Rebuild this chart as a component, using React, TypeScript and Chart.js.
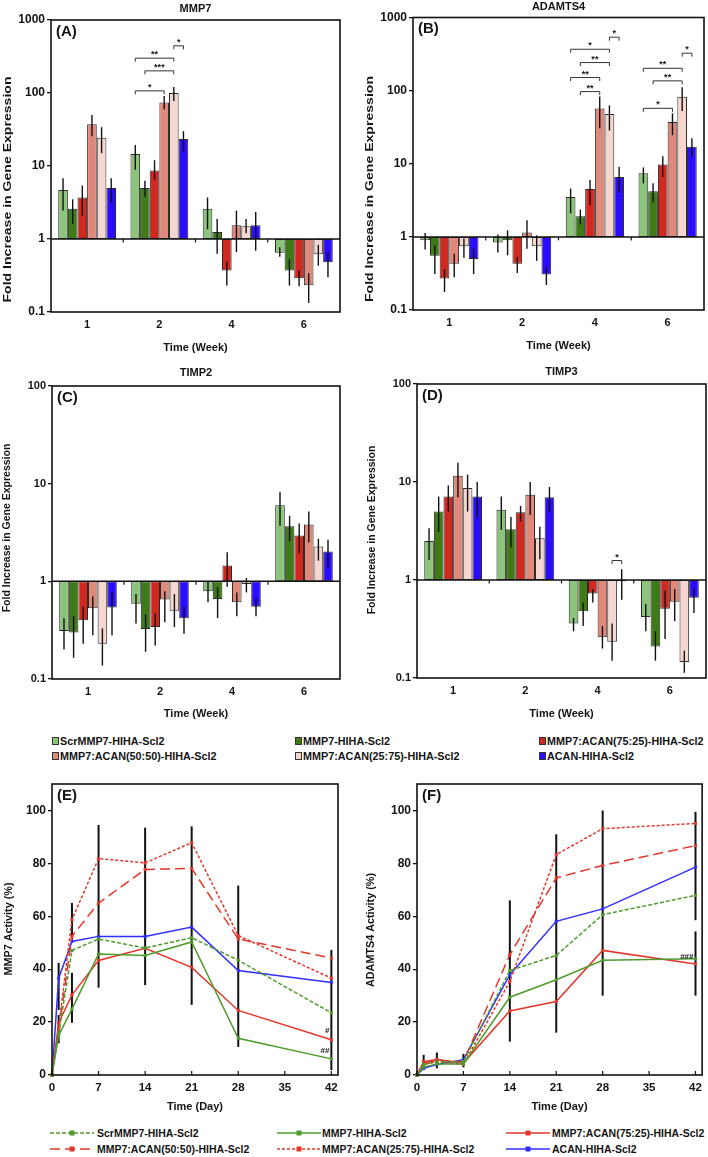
import React, { useEffect, useRef } from 'react';
import { Chart, registerables } from 'chart.js';

Chart.register(...registerables);

const FONT = '"Liberation Sans", Arial, Helvetica, sans-serif';
const INK = '#141414';

// ---------- categories & tick labels ----------
const weekLabels = ['1', '2', '4', '6'];
const seriesNames = [
  'ScrMMP7-HIHA-Scl2',
  'MMP7-HIHA-Scl2',
  'MMP7:ACAN(75:25)-HIHA-Scl2',
  'MMP7:ACAN(50:50)-HIHA-Scl2',
  'MMP7:ACAN(25:75)-HIHA-Scl2',
  'ACAN-HIHA-Scl2',
];
const logTicksWide = [0.1, 1, 10, 100, 1000];
const logTicksNarrow = [0.1, 1, 10, 100];
const dayTicks = [0, 7, 14, 21, 28, 35, 42];
const activityTicks = [0, 20, 40, 60, 80, 100];
const activityDays = [0, 1, 3, 7, 14, 21, 28, 42];

// ---------- styles ----------
const barColors = ['#8dc47b', '#3e7b16', '#d1291f', '#e0887a', '#f6d7d0', '#2b0cff'];
const lineColors = ['#4f9b2e', '#4f9b2e', '#e2372c', '#e2372c', '#e2372c', '#2f2fff'];
const lineDashes: number[][] = [[4, 2], [], [], [10, 5], [3, 2], []];

// ---------- (A) MMP7 gene expression (rows = series, cols = weeks) ----------
const mmp7Mean = [
  [4.7, 14.6, 2.6, 0.65],
  [2.6, 5.0, 1.25, 0.37],
  [3.7, 8.7, 0.37, 0.29],
  [37.4, 74.4, 1.54, 0.233],
  [24.3, 100, 1.49, 0.62],
  [5.0, 23.5, 1.54, 0.48],
];
const mmp7Upper = [
  [6.8, 19.4, 3.7, 0.77],
  [3.5, 6.3, 1.88, 0.53],
  [5.4, 12.0, 0.49, 0.37],
  [50, 90.7, 2.45, 0.34],
  [34, 121, 1.88, 0.83],
  [6.8, 30, 2.35, 0.66],
];
const mmp7Lower = [
  [2.45, 8.9, 1.36, 0.57],
  [1.6, 3.8, 0.63, 0.23],
  [2.07, 6.5, 0.23, 0.225],
  [25.6, 59.3, 0.66, 0.133],
  [15, 78, 1.2, 0.43],
  [3.1, 15.7, 0.69, 0.3],
];
// [week index, from series, to series, bracket level, label]
const mmp7Sig: [number, number, number, number, string][] = [
  [1, 0, 3, 107, '*'],
  [1, 1, 4, 201, '***'],
  [1, 0, 4, 300, '**'],
  [1, 4, 5, 443, '*'],
];

// ---------- (B) ADAMTS4 gene expression ----------
const adamts4Mean = [
  [0.9, 0.84, 3.5, 7.4],
  [0.55, 0.9, 1.92, 4.2],
  [0.27, 0.43, 4.5, 9.8],
  [0.43, 1.15, 57, 37.2],
  [0.745, 0.745, 48, 82.7],
  [0.5, 0.305, 6.6, 17.1],
];
const adamts4Upper = [
  [1.13, 1.08, 4.6, 8.9],
  [0.77, 1.23, 2.37, 5.4],
  [0.36, 0.53, 6.0, 12.7],
  [0.59, 1.69, 83, 49],
  [0.95, 1.05, 63, 111],
  [0.69, 0.39, 9.1, 22.3],
];
const adamts4Lower = [
  [0.67, 0.61, 2.1, 5.4],
  [0.31, 0.56, 1.49, 2.95],
  [0.176, 0.32, 2.7, 6.6],
  [0.28, 0.69, 30.5, 24.6],
  [0.52, 0.47, 28.4, 52.6],
  [0.31, 0.22, 4.0, 12.5],
];
const adamts4Sig: [number, number, number, number, string][] = [
  [2, 1, 3, 97, '**'],
  [2, 0, 3, 151, '**'],
  [2, 1, 4, 242, '**'],
  [2, 0, 4, 368, '*'],
  [2, 4, 5, 538, '*'],
  [3, 0, 3, 57.3, '*'],
  [3, 1, 4, 136, '**'],
  [3, 0, 4, 202, '**'],
  [3, 4, 5, 325, '*'],
];

// ---------- (C) TIMP2 gene expression ----------
const timp2Mean = [
  [0.31, 0.59, 0.79, 6.0],
  [0.3, 0.325, 0.66, 3.67],
  [0.4, 0.34, 1.45, 2.94],
  [0.53, 0.65, 0.61, 3.82],
  [0.23, 0.5, 0.94, 2.27],
  [0.54, 0.42, 0.55, 2.02],
];
const timp2Upper = [
  [0.42, 0.74, 1.0, 8.2],
  [0.44, 0.46, 0.87, 4.7],
  [0.55, 0.47, 1.99, 3.9],
  [0.7, 0.79, 0.77, 5.2],
  [0.33, 0.74, 1.08, 2.72],
  [0.78, 0.55, 0.67, 2.66],
];
const timp2Lower = [
  [0.2, 0.37, 0.61, 3.7],
  [0.165, 0.19, 0.42, 2.58],
  [0.23, 0.22, 0.88, 1.94],
  [0.28, 0.38, 0.44, 2.5],
  [0.137, 0.34, 0.77, 1.63],
  [0.28, 0.29, 0.44, 1.37],
];
const timp2Sig: [number, number, number, number, string][] = [];

// ---------- (D) TIMP3 gene expression ----------
const timp3Mean = [
  [2.5, 5.2, 0.36, 0.42],
  [5.0, 3.3, 0.48, 0.21],
  [7.1, 4.9, 0.73, 0.51],
  [11.6, 7.4, 0.26, 0.6],
  [8.7, 2.67, 0.235, 0.146],
  [7.1, 7.0, 0.97, 0.66],
];
const timp3Upper = [
  [3.38, 7.1, 0.41, 0.57],
  [7.1, 4.4, 0.59, 0.3],
  [9.2, 5.7, 0.81, 0.78],
  [15.7, 10.0, 0.34, 0.81],
  [11.9, 3.5, 0.36, 0.19],
  [10.0, 8.9, 1.29, 0.81],
];
const timp3Lower = [
  [1.6, 3.25, 0.3, 0.3],
  [3.1, 2.16, 0.34, 0.15],
  [5.0, 3.95, 0.59, 0.25],
  [7.0, 4.6, 0.2, 0.38],
  [5.0, 1.63, 0.15, 0.113],
  [4.3, 5.0, 0.63, 0.46],
];
const timp3Sig: [number, number, number, number, string][] = [[2, 4, 5, 1.58, '*']];

// ---------- (E) MMP7 activity (%) ----------
const mmp7ActScr = [0, 15.5, 47.1, 51.4, 48.0, 51.9, 43.4, 23.5];
const mmp7ActMmp7 = [0, 15.0, 24.9, 45.7, 45.2, 50.3, 13.9, 6.1];
const mmp7Act7525 = [0, 19.7, 30.3, 43.3, 47.9, 40.7, 24.4, 13.3];
const mmp7Act5050 = [0, 17.0, 52.4, 65.0, 77.7, 78.1, 51.4, 44.2];
const mmp7Act2575 = [0, 18.0, 58.7, 81.8, 80.2, 87.8, 52.7, 36.6];
const mmp7ActAcan = [0, 36.6, 50.5, 52.4, 52.4, 55.9, 39.5, 35.0];
// error spans: [day, low, high]
const mmp7ActErr: [number, number, number][] = [
  [1, 24.6, 42.4], [1, 12, 22.7], [3, 50, 65], [3, 19.7, 38.6], [7, 33, 94.5],
  [14, 34, 93.5], [21, 26.5, 94], [28, 10.6, 71.6], [42, 1.9, 47.3],
];
// [label, day, level]
const mmp7ActMarks: [string, number, number][] = [['#', 42, 16.7], ['##', 42, 9.1]];

// ---------- (F) ADAMTS4 activity (%) ----------
const adamActScr = [0, 4.0, 5.0, 5.0, 39.5, 45.2, 60.6, 67.9];
const adamActMmp7 = [0, 3.0, 4.2, 4.2, 29.4, 36.0, 43.4, 43.9];
const adamAct7525 = [0, 5.0, 5.9, 4.5, 24.2, 27.8, 47.1, 42.0];
const adamAct5050 = [0, 4.5, 5.5, 5.0, 45.5, 74.5, 79.2, 86.7];
const adamAct2575 = [0, 4.0, 5.0, 4.0, 35.4, 83.3, 93.1, 95.1];
const adamActAcan = [0, 2.5, 4.0, 5.8, 37.9, 58.1, 62.8, 78.6];
const adamActErr: [number, number, number][] = [
  [1, 1.9, 7.6], [3, 2.5, 8.5], [7, 2.9, 8.0], [14, 12.6, 66], [21, 16, 91],
  [28, 30, 100], [42, 58.5, 99.5], [42, 30, 54.3],
];
const adamActMarks: [string, number, number][] = [['###', 42, 44.5]];

// ---------- helpers ----------
type Box = { left: number; top: number; width: number; height: number };
type Area = { left: number; top: number; right: number; bottom: number };

function drawText(
  ctx: CanvasRenderingContext2D,
  str: string,
  x: number,
  y: number,
  size: number,
  align: CanvasTextAlign = 'center',
  baseline: CanvasTextBaseline = 'middle',
  rotate = 0,
  stretch = 1,
) {
  ctx.save();
  ctx.translate(x, y);
  if (rotate) ctx.rotate(rotate);
  if (stretch !== 1) ctx.scale(stretch, 1);
  ctx.font = `bold ${size}px ${FONT}`;
  ctx.fillStyle = INK;
  ctx.textAlign = align;
  ctx.textBaseline = baseline;
  ctx.fillText(str, 0, 0);
  ctx.restore();
}

function seg(ctx: CanvasRenderingContext2D, x1: number, y1: number, x2: number, y2: number) {
  ctx.beginPath();
  ctx.moveTo(x1, y1);
  ctx.lineTo(x2, y2);
  ctx.stroke();
}

type BarPanel = {
  id: string;
  letter: string;
  title: string;
  mean: number[][];
  upper: number[][];
  lower: number[][];
  sig: [number, number, number, number, string][];
  yTicks: number[];
  tickSize: number;
  box: Box;
  area: Area;
  titleY: number;
  xTitleY: number;
  yTitleX: number;
  yTitleY: number;
  yTitleStretch: number;
};

function barConfig(p: BarPanel): any {
  const { box, area } = p;
  const plugin = {
    id: 'barDecor' + p.id,
    afterDatasetsDraw(chart: any) {
      const { ctx, chartArea: a, scales } = chart;
      const x = scales.x;
      const y = scales.y;
      const ox = box.left;
      const oy = box.top;
      ctx.save();
      // error bars
      ctx.strokeStyle = '#111';
      ctx.lineWidth = 1.4;
      p.mean.forEach((row, i) => {
        const meta = chart.getDatasetMeta(i);
        row.forEach((_v, j) => {
          const px = meta.data[j].x;
          seg(ctx, px, y.getPixelForValue(p.upper[i][j]), px, y.getPixelForValue(p.lower[i][j]));
        });
      });
      // baseline at fold change = 1
      const y1 = y.getPixelForValue(1);
      ctx.lineWidth = 1.5;
      seg(ctx, a.left, y1, a.right, y1);
      ctx.lineWidth = 1.2;
      for (let k = 1; k < weekLabels.length; k++) {
        const xb = (x.getPixelForValue(k - 1) + x.getPixelForValue(k)) / 2;
        seg(ctx, xb, y1, xb, y1 + 3.5);
      }
      // frame
      ctx.lineWidth = 1.6;
      ctx.strokeRect(a.left, a.top, a.right - a.left, a.bottom - a.top);
      // significance brackets
      ctx.strokeStyle = '#333';
      ctx.lineWidth = 1;
      p.sig.forEach(([g, s1, s2, h, lab]) => {
        const x1 = chart.getDatasetMeta(s1).data[g].x;
        const x2 = chart.getDatasetMeta(s2).data[g].x;
        const yy = y.getPixelForValue(h);
        ctx.beginPath();
        ctx.moveTo(x1, yy + 3.5);
        ctx.lineTo(x1, yy);
        ctx.lineTo(x2, yy);
        ctx.lineTo(x2, yy + 3.5);
        ctx.stroke();
        drawText(ctx, lab, (x1 + x2) / 2, yy - 1, 9, 'center', 'alphabetic');
      });
      // texts
      const cx = (a.left + a.right) / 2;
      drawText(ctx, p.letter, a.left + 5, a.top + 4, 15, 'left', 'top');
      drawText(ctx, p.title, cx, p.titleY - oy, 11);
      drawText(ctx, 'Time (Week)', cx, p.xTitleY - oy, 11);
      drawText(ctx, 'Fold Increase in Gene Expression', p.yTitleX - ox, p.yTitleY - oy, 10.5, 'center', 'middle', -Math.PI / 2, p.yTitleStretch);
      ctx.restore();
    },
  };
  return {
    type: 'bar',
    data: {
      labels: weekLabels,
      datasets: p.mean.map((row, i) => ({
        label: seriesNames[i],
        data: row.map((v) => [1, v]),
        backgroundColor: barColors[i],
        borderColor: '#2b2b2b',
        borderWidth: 1,
        borderSkipped: false,
        categoryPercentage: 0.8,
        barPercentage: 1.0,
      })),
    },
    options: {
      responsive: false,
      animation: false,
      events: [],
      layout: {
        padding: {
          top: area.top - box.top,
          right: box.left + box.width - area.right,
          left: 0,
          bottom: 0,
        },
      },
      plugins: { legend: { display: false }, tooltip: { enabled: false }, title: { display: false } },
      scales: {
        x: {
          type: 'category',
          grid: { display: false, drawTicks: false },
          border: { display: false },
          ticks: { color: INK, font: { family: FONT, size: 11, weight: 'bold' }, padding: 6 },
          afterFit: (s: any) => {
            s.height = box.top + box.height - area.bottom;
          },
        },
        y: {
          type: 'logarithmic',
          min: p.yTicks[0],
          max: p.yTicks[p.yTicks.length - 1],
          afterBuildTicks: (s: any) => {
            s.ticks = p.yTicks.map((v) => ({ value: v }));
          },
          ticks: {
            autoSkip: false,
            color: INK,
            font: { family: FONT, size: p.tickSize, weight: 'bold' },
            padding: 2,
            callback: (v: any) => String(v),
          },
          grid: { drawOnChartArea: false, drawTicks: true, tickLength: 4, color: '#111', lineWidth: 1.3 },
          border: { display: false },
          afterFit: (s: any) => {
            s.width = area.left - box.left;
          },
        },
      },
    },
    plugins: [plugin],
  };
}

type LinePanel = {
  id: string;
  letter: string;
  yTitle: string;
  series: number[][];
  err: [number, number, number][];
  marks: [string, number, number][];
  box: Box;
  area: Area;
  xTitleY: number;
  yTitleX: number;
  yTitleY: number;
};

function lineConfig(p: LinePanel): any {
  const { box, area } = p;
  const plugin = {
    id: 'lineDecor' + p.id,
    beforeDatasetsDraw(chart: any) {
      const { ctx, scales } = chart;
      ctx.save();
      ctx.strokeStyle = '#111';
      ctx.lineWidth = 2;
      p.err.forEach(([d, lo, hi]) => {
        const px = scales.x.getPixelForValue(d);
        seg(ctx, px, scales.y.getPixelForValue(hi), px, scales.y.getPixelForValue(lo));
      });
      ctx.restore();
    },
    afterDatasetsDraw(chart: any) {
      const { ctx, chartArea: a, scales } = chart;
      const ox = box.left;
      const oy = box.top;
      ctx.save();
      ctx.strokeStyle = '#111';
      ctx.lineWidth = 1.2;
      dayTicks.forEach((d) => {
        const px = scales.x.getPixelForValue(d);
        seg(ctx, px, a.bottom, px, a.bottom - 4);
      });
      ctx.lineWidth = 1.6;
      ctx.strokeRect(a.left, a.top, a.right - a.left, a.bottom - a.top);
      p.marks.forEach(([lab, d, v]) => {
        drawText(ctx, lab, scales.x.getPixelForValue(d) - 2, scales.y.getPixelForValue(v), 8, 'right', 'middle');
      });
      const cx = (a.left + a.right) / 2;
      drawText(ctx, p.letter, a.left + 5, a.top + 4, 15, 'left', 'top');
      drawText(ctx, 'Time (Day)', cx, p.xTitleY - oy, 11);
      drawText(ctx, p.yTitle, p.yTitleX - ox, p.yTitleY - oy, 10.8, 'center', 'middle', -Math.PI / 2);
      ctx.restore();
    },
  };
  return {
    type: 'line',
    data: {
      datasets: p.series.map((vals, i) => ({
        label: seriesNames[i],
        data: activityDays.map((d, k) => ({ x: d, y: vals[k] })),
        borderColor: lineColors[i],
        backgroundColor: lineColors[i],
        borderWidth: 1.5,
        borderDash: lineDashes[i],
        pointStyle: 'rect',
        pointRadius: 2.2,
        pointBorderWidth: 0,
        pointBackgroundColor: lineColors[i],
        tension: 0,
        fill: false,
        clip: false,
      })),
    },
    options: {
      responsive: false,
      animation: false,
      events: [],
      layout: {
        padding: {
          top: area.top - box.top,
          right: box.left + box.width - area.right,
          left: 0,
          bottom: 0,
        },
      },
      plugins: { legend: { display: false }, tooltip: { enabled: false }, title: { display: false } },
      scales: {
        x: {
          type: 'linear',
          min: 0,
          max: 43,
          afterBuildTicks: (s: any) => {
            s.ticks = dayTicks.map((v) => ({ value: v }));
          },
          grid: { display: false, drawTicks: false },
          border: { display: false },
          ticks: { autoSkip: false, color: INK, font: { family: FONT, size: 11.5, weight: 'bold' }, padding: 6 },
          afterFit: (s: any) => {
            s.height = box.top + box.height - area.bottom;
          },
        },
        y: {
          type: 'linear',
          min: 0,
          max: 110,
          afterBuildTicks: (s: any) => {
            s.ticks = activityTicks.map((v) => ({ value: v }));
          },
          ticks: { autoSkip: false, color: INK, font: { family: FONT, size: 12, weight: 'bold' }, padding: 2 },
          grid: { drawOnChartArea: false, drawTicks: true, tickLength: 4, color: '#111', lineWidth: 1.3 },
          border: { display: false },
          afterFit: (s: any) => {
            s.width = area.left - box.left;
          },
        },
      },
    },
    plugins: [plugin],
  };
}

// ---------- panels ----------
const panelA: BarPanel = {
  id: 'A', letter: '(A)', title: 'MMP7', mean: mmp7Mean, upper: mmp7Upper, lower: mmp7Lower, sig: mmp7Sig,
  yTicks: logTicksWide, tickSize: 12,
  box: { left: 0, top: 0, width: 354, height: 362 },
  area: { left: 51, top: 20, right: 340, bottom: 312 },
  titleY: 8.5, xTitleY: 348, yTitleX: 8.5, yTitleY: 189.5, yTitleStretch: 1.34,
};
const panelB: BarPanel = {
  id: 'B', letter: '(B)', title: 'ADAMTS4', mean: adamts4Mean, upper: adamts4Upper, lower: adamts4Lower, sig: adamts4Sig,
  yTicks: logTicksWide, tickSize: 12,
  box: { left: 354, top: 0, width: 354, height: 362 },
  area: { left: 413, top: 17.5, right: 704, bottom: 310 },
  titleY: 7, xTitleY: 346, yTitleX: 370, yTitleY: 189, yTitleStretch: 1.34,
};
const panelC: BarPanel = {
  id: 'C', letter: '(C)', title: 'TIMP2', mean: timp2Mean, upper: timp2Upper, lower: timp2Lower, sig: timp2Sig,
  yTicks: logTicksNarrow, tickSize: 11,
  box: { left: 0, top: 362, width: 354, height: 370 },
  area: { left: 52, top: 386, right: 340, bottom: 679 },
  titleY: 373, xTitleY: 714, yTitleX: 7.5, yTitleY: 528, yTitleStretch: 1,
};
const panelD: BarPanel = {
  id: 'D', letter: '(D)', title: 'TIMP3', mean: timp3Mean, upper: timp3Upper, lower: timp3Lower, sig: timp3Sig,
  yTicks: logTicksNarrow, tickSize: 11,
  box: { left: 354, top: 362, width: 354, height: 370 },
  area: { left: 417, top: 384, right: 706, bottom: 678 },
  titleY: 372, xTitleY: 714, yTitleX: 372, yTitleY: 530, yTitleStretch: 1,
};
const panelE: LinePanel = {
  id: 'E', letter: '(E)', yTitle: 'MMP7 Activity (%)',
  series: [mmp7ActScr, mmp7ActMmp7, mmp7Act7525, mmp7Act5050, mmp7Act2575, mmp7ActAcan],
  err: mmp7ActErr, marks: mmp7ActMarks,
  box: { left: 0, top: 765, width: 354, height: 357 },
  area: { left: 52, top: 784, right: 338, bottom: 1075 },
  xTitleY: 1107, yTitleX: 9, yTitleY: 929,
};
const panelF: LinePanel = {
  id: 'F', letter: '(F)', yTitle: 'ADAMTS4 Activity (%)',
  series: [adamActScr, adamActMmp7, adamAct7525, adamAct5050, adamAct2575, adamActAcan],
  err: adamActErr, marks: adamActMarks,
  box: { left: 354, top: 765, width: 354, height: 357 },
  area: { left: 417, top: 784, right: 703.5, bottom: 1075 },
  xTitleY: 1107, yTitleX: 371, yTitleY: 930,
};

function ChartCanvas({ box, make }: { box: Box; make: () => any }) {
  const ref = useRef<HTMLCanvasElement>(null);
  useEffect(() => {
    const chart = new Chart(ref.current as HTMLCanvasElement, make());
    return () => chart.destroy();
  }, []);
  return (
    <canvas
      ref={ref}
      width={box.width}
      height={box.height}
      style={{ position: 'absolute', left: box.left, top: box.top, width: box.width, height: box.height }}
    />
  );
}

const barLegendCols = [52, 295, 539];
const barLegendRows = [741, 756];
const lineLegendCols = [
  { line: 50, text: 97 },
  { line: 277, text: 322 },
  { line: 506, text: 552 },
];
const lineLegendRows = [1133, 1149];

export default function App() {
  return (
    <div
      style={{
        position: 'absolute',
        left: 0,
        top: 0,
        width: 708,
        height: 1157,
        background: '#fff',
        overflow: 'hidden',
        fontFamily: FONT,
      }}
    >
      <ChartCanvas box={panelA.box} make={() => barConfig(panelA)} />
      <ChartCanvas box={panelB.box} make={() => barConfig(panelB)} />
      <ChartCanvas box={panelC.box} make={() => barConfig(panelC)} />
      <ChartCanvas box={panelD.box} make={() => barConfig(panelD)} />
      <ChartCanvas box={panelE.box} make={() => lineConfig(panelE)} />
      <ChartCanvas box={panelF.box} make={() => lineConfig(panelF)} />

      {seriesNames.map((name, i) => (
        <div
          key={'bl' + i}
          style={{
            position: 'absolute',
            left: barLegendCols[i % 3],
            top: barLegendRows[Math.floor(i / 3)] - 7,
            height: 14,
            display: 'flex',
            alignItems: 'center',
            fontSize: 10.8,
            fontWeight: 'bold',
            color: INK,
            whiteSpace: 'nowrap',
          }}
        >
          <span
            style={{
              display: 'inline-block',
              width: 5,
              height: 6,
              background: barColors[i],
              border: '1px solid #333',
              marginRight: 1,
            }}
          />
          {name}
        </div>
      ))}

      {seriesNames.map((name, i) => {
        const col = lineLegendCols[i % 3];
        const cy = lineLegendRows[Math.floor(i / 3)];
        const dash = lineDashes[i].length ? lineDashes[i].join(',') : undefined;
        return (
          <React.Fragment key={'ll' + i}>
            <svg
              width={44}
              height={10}
              style={{ position: 'absolute', left: col.line, top: cy - 5 }}
            >
              <line x1={0} y1={5} x2={44} y2={5} stroke={lineColors[i]} strokeWidth={1.6} strokeDasharray={dash} />
              <rect x={19.5} y={2.5} width={5} height={5} fill={lineColors[i]} />
            </svg>
            <div
              style={{
                position: 'absolute',
                left: col.text,
                top: cy - 7,
                height: 14,
                lineHeight: '14px',
                fontSize: 10.5,
                fontWeight: 'bold',
                color: INK,
                whiteSpace: 'nowrap',
              }}
            >
              {name}
            </div>
          </React.Fragment>
        );
      })}
    </div>
  );
}
